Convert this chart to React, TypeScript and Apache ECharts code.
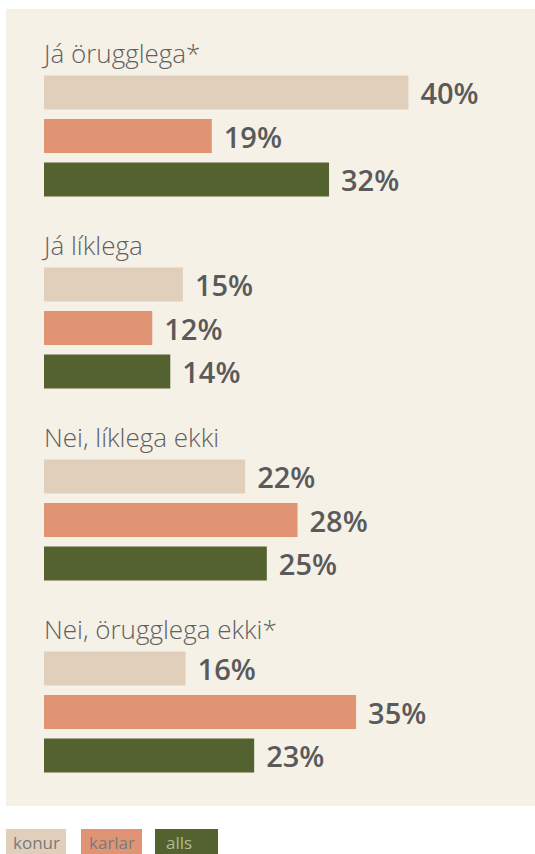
import React, { useEffect, useRef } from "react";
import * as echarts from "echarts";

const categories = ["Já örugglega*", "Já líklega", "Nei, líklega ekki", "Nei, örugglega ekki*"];
const seriesNames = ["konur", "karlar", "alls"];
const konur = [40.4, 15.4, 22.3, 15.7];
const karlar = [18.6, 12.0, 28.1, 34.6];
const alls = [31.6, 14.0, 24.7, 23.3];
const seriesValues = [konur, karlar, alls];
const colors = ["#e0cfbb", "#e09473", "#53622e"];
const legendTextColors = ["#7a7a7a", "#7a7a7a", "#b3b99a"];

export default function App() {
  const ref = useRef<HTMLDivElement>(null);
  useEffect(() => {
    if (!ref.current) return;
    const chart = echarts.init(ref.current, null, { renderer: "svg" });
    const legendX = [6, 81, 155];
    const legendW = [60, 61, 63];
    const legendTextX = [13, 89, 166];
    const legendEls: any[] = [];
    seriesNames.forEach((n, i) => {
      legendEls.push({
        type: "rect",
        z: 1,
        shape: { x: legendX[i], y: 829, width: legendW[i], height: 30 },
        style: { fill: colors[i] },
      });
      legendEls.push({
        type: "text",
        z: 2,
        x: legendTextX[i],
        y: 842,
        style: {
          text: n,
          fill: legendTextColors[i],
          font: "400 17px 'Open Sans'",
          verticalAlign: "middle",
        },
      });
    });
    const bgEl = {
      type: "rect",
      z: -10,
      shape: { x: 6, y: 9, width: 529, height: 797 },
      style: { fill: "#f6f1e7" },
      silent: true,
    };
    chart.setOption({
      animation: false,
      graphic: { elements: [bgEl, ...legendEls] },
      grid: { left: 44, width: 451, top: 40, height: 768, outerBoundsMode: "none" },
      xAxis: { type: "value", min: 0, max: 50, show: false },
      yAxis: {
        type: "category",
        inverse: true,
        data: categories,
        axisLine: { show: false },
        axisTick: { show: false },
        splitLine: { show: false },
        axisLabel: { show: false },
      },
      series: seriesNames.map((n, i) => ({
        name: n,
        type: "bar",
        data: seriesValues[i],
        barWidth: 34,
        barGap: "28%",
        itemStyle: { color: colors[i] },
        label: {
          show: true,
          position: "right",
          distance: 12,
          formatter: (p: any) => Math.round(p.value) + "%",
          fontFamily: "Open Sans",
          fontWeight: 600,
          fontSize: 29,
          color: "#5a5a5a",
        },
      })),
    });
    const catEls = categories.map((c) => {
      const [x0, yc] = chart.convertToPixel({ gridIndex: 0 }, [0, c]) as number[];
      return {
        type: "text",
        z: 5,
        x: x0,
        y: yc - 83,
        style: {
          text: c,
          fill: "#606060",
          font: "300 26px 'Open Sans'",
          verticalAlign: "middle",
          align: "left",
        },
      };
    });
    chart.setOption({ graphic: { elements: [bgEl, ...legendEls, ...catEls] } });
    return () => chart.dispose();
  }, []);
  return (
    <div
      ref={ref}
      style={{ position: "absolute", left: 0, top: 0, width: 535, height: 854 }}
    />
  );
}
